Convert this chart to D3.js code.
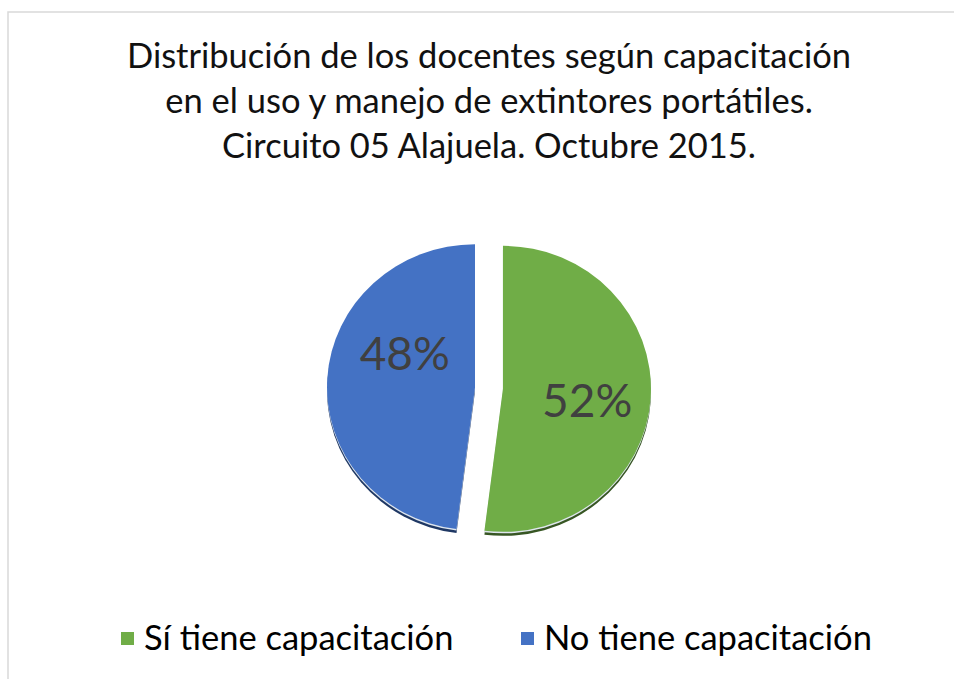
<!DOCTYPE html>
<html><head><meta charset="utf-8">
<script src="https://cdn.jsdelivr.net/npm/d3@7"></script>
<style>html,body{margin:0;padding:0;background:#fff;}svg{display:block;}</style>
</head><body>
<script>
const categories = ["Sí tiene capacitación", "No tiene capacitación"];
const values = [52, 48];
const colors = ["#70AD47", "#4472C4"];
const shadowColors = ["#375623", "#1F3864"];
const titleLines = ["Distribución de los docentes según capacitación",
                    "en el uso y manejo de extintores portátiles.",
                    "Circuito 05 Alajuela. Octubre 2015."];

const W = 954, H = 679;
const FONT = "Lato, 'Open Sans', sans-serif";
const svg = d3.select("body").append("svg").attr("width", W).attr("height", H);

// chart area border
svg.append("rect").attr("x", 8).attr("y", 12).attr("width", W).attr("height", H)
  .attr("fill", "#fff").attr("stroke", "#D9D9D9").attr("stroke-width", 1.5);

// title
const title = svg.append("g");
const tl = title.selectAll("text").data(titleLines).join("text")
  .attr("x", 489).attr("y", (d, i) => 68 + i * 45)
  .attr("text-anchor", "middle").attr("font-family", FONT)
  .attr("font-size", 29).attr("fill", "#111").text(d => d);
const w0 = tl.node().getComputedTextLength();
const titleSize = 29 * 724 / w0;
tl.attr("font-size", titleSize);

// pie
const cx = 489, cy = 388, rx = 148, ry = 143, explode = 14;
const pie = d3.pie().sort(null).value(d => d.v);
const arcs = pie(values.map((v, i) => ({v, i})));
const arc = d3.arc().innerRadius(0).outerRadius(rx);
const labelNudge = [[3, 7], [11, -29]];

const g = svg.append("g").attr("transform", `translate(${cx},${cy})`);
const slices = g.selectAll("g.slice").data(arcs).join("g").attr("class", "slice")
  .attr("transform", d => {
    const a = (d.startAngle + d.endAngle) / 2;
    return `translate(${explode * Math.sin(a)},${-explode * Math.cos(a) * ry / rx})`;
  });
slices.append("path")
  .attr("transform", `translate(0,4) scale(1,${ry / rx})`)
  .attr("d", arc).attr("fill", d => shadowColors[d.index]);
slices.append("path")
  .attr("transform", `translate(0,1.5) scale(1,${ry / rx})`)
  .attr("d", arc).attr("fill", "#dfe6ee");
slices.append("path")
  .attr("transform", `scale(1,${ry / rx})`)
  .attr("d", arc).attr("fill", d => colors[d.index]);

slices.append("text")
  .attr("transform", d => {
    const c = d3.arc().innerRadius(0).outerRadius(rx * 1.1).centroid(d);
    const n = labelNudge[d.index];
    return `translate(${c[0] + n[0]},${c[1] * ry / rx + n[1]})`;
  })
  .attr("text-anchor", "middle").attr("dy", "0.36em")
  .attr("font-family", FONT)
  .attr("font-size", 46).attr("fill", "#404040")
  .text(d => Math.round(d.data.v) + "%");

// legend
const legend = svg.append("g");
const lx = [121, 521];
const items = legend.selectAll("g").data(categories).join("g")
  .attr("transform", (d, i) => `translate(${lx[i]},650)`);
items.append("rect").attr("x", 0).attr("y", -18).attr("width", 13).attr("height", 13)
  .attr("fill", (d, i) => colors[i]);
items.append("text").attr("x", 23).attr("y", 0)
  .attr("font-family", FONT).attr("font-size", titleSize).attr("fill", "#000")
  .text(d => d);
</script>
</body></html>
